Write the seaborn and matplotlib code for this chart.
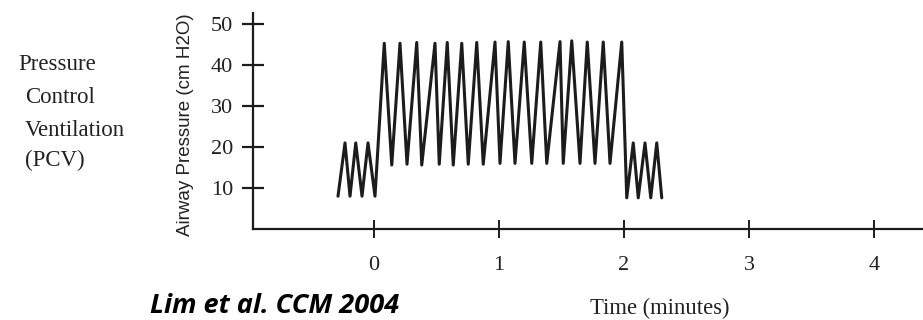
import matplotlib
matplotlib.use("Agg")
import matplotlib.pyplot as plt
import seaborn as sns
import pandas as pd

# ---- data ----
time_min = [-0.288, -0.232, -0.192, -0.146, -0.096, -0.048, 0.008,
            0.082, 0.142, 0.208, 0.264, 0.342, 0.382, 0.488, 0.522, 0.586, 0.634,
            0.702, 0.754, 0.822, 0.874, 0.968, 1.008, 1.074, 1.128, 1.202, 1.262,
            1.334, 1.382, 1.488, 1.514, 1.582, 1.648, 1.706, 1.768, 1.834, 1.888, 1.982,
            2.022, 2.074, 2.114, 2.168, 2.214, 2.262, 2.302]
pressure = [8, 21, 8, 21, 8, 21, 8,
            45.3, 15.6, 45.3, 15.8, 45.5, 15.6, 45.3, 15.8, 45.5, 15.6,
            45.3, 15.8, 45.5, 15.8, 45.6, 16, 45.7, 16, 45.6, 16,
            45.6, 16, 45.7, 16, 45.9, 16, 45.6, 16, 45.6, 16, 45.6,
            7.6, 21, 7.6, 21, 7.6, 21, 7.6]
x_ticks = [0, 1, 2, 3, 4]
y_ticks = [10, 20, 30, 40, 50]
side_label = ["Pressure", "Control", "Ventilation", "(PCV)"]
y_label = "Airway Pressure (cm H2O)"
x_label = "Time (minutes)"
citation = "Lim et al. CCM 2004"

df = pd.DataFrame({"time": time_min, "pressure": pressure})

sns.set_theme(style="white")
plt.rcParams["font.family"] = ["Liberation Serif", "DejaVu Serif"]

W, H = 923, 320
fig = plt.figure(figsize=(W / 100, H / 100), dpi=100)
fig.patch.set_facecolor("white")

# axes geometry in pixels
left_px, right_px, top_px, axis_px = 253, 923, 13, 229
ax = fig.add_axes([left_px / W, (H - axis_px) / H, (right_px - left_px) / W, (axis_px - top_px) / H])
ax.set_facecolor("white")

ink = "#1c1c1c"
sns.lineplot(data=df, x="time", y="pressure", ax=ax, color=ink, lw=2.2,
             sort=False, estimator=None)

x0_px, px_per_min = 374, 125
ax.set_xlim((left_px - x0_px) / px_per_min, (right_px - x0_px) / px_per_min)
ax.set_ylim(0, (axis_px - top_px) / 4.1)

ax.set_xticks(x_ticks)
ax.set_xticklabels([str(t) for t in x_ticks])
ax.set_yticks(y_ticks)
ax.set_yticklabels([str(t) for t in y_ticks])
ax.set_xlabel("")
ax.set_ylabel("")

for s in ["top", "right"]:
    ax.spines[s].set_visible(False)
for s in ["left", "bottom"]:
    ax.spines[s].set_color(ink)
    ax.spines[s].set_linewidth(1.6)

ax.tick_params(axis="y", direction="inout", length=16, width=1.6, color=ink,
               pad=6.5, labelsize=16, labelcolor="#222222", left=True)
ax.tick_params(axis="x", direction="inout", length=13, width=1.4, color=ink,
               pad=13, labelsize=16, labelcolor="#222222", bottom=True)

# y label (sans serif, rotated)
fig.text(186 / W, 1 - 125 / H, y_label, rotation=90, ha="center", va="center",
         fontsize=13.5, family=["Liberation Sans", "DejaVu Sans"], color="#222222")

# x label
fig.text(660 / W, 1 - 319 / H, x_label, ha="center", va="bottom",
         fontsize=16.3, color="#222222")

# left side label
side_pos = [(18, 70), (25, 103), (25, 136), (25, 166)]
for txt, (px, py) in zip(side_label, side_pos):
    fig.text(px / W, 1 - py / H, txt, ha="left", va="baseline", fontsize=16.5,
             color="#222222")

# citation
fig.text(150 / W, 1 - 319 / H, citation, ha="left", va="bottom", fontsize=19.5,
         family=["Open Sans", "DejaVu Sans"], weight="bold", style="italic",
         color="black")

fig.savefig("out.png", dpi=100, facecolor="white")
